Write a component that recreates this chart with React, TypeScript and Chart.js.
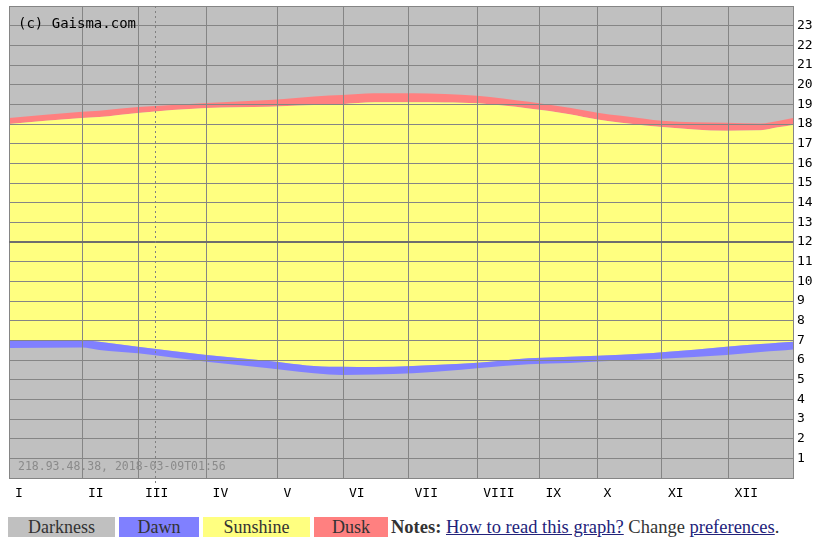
import React, { useEffect, useRef } from "react";
import { Chart, registerables } from "chart.js";

Chart.register(...registerables);

// Day of year for each sample
const DAYS = [0, 34, 42, 60, 92, 121, 149, 155, 170, 188, 203, 218, 242, 261, 274, 296, 304, 334, 350, 358, 365];
// Hours of day
const DAWN_START = [6.61, 6.64, 6.51, 6.34, 5.91, 5.58, 5.26, 5.24, 5.26, 5.32, 5.44, 5.58, 5.78, 5.85, 5.92, 6.02, 6.06, 6.25, 6.41, 6.47, 6.54];
const SUNRISE = [7.02, 7.02, 6.93, 6.68, 6.25, 5.95, 5.66, 5.66, 5.64, 5.69, 5.77, 5.86, 6.09, 6.17, 6.22, 6.33, 6.39, 6.68, 6.81, 6.88, 6.93];
const SUNSET = [18.0, 18.3, 18.35, 18.56, 18.81, 18.88, 18.99, 19.01, 19.1, 19.1, 19.09, 19.05, 18.79, 18.5, 18.23, 17.93, 17.85, 17.66, 17.68, 17.83, 17.95];
const DUSK_END = [18.3, 18.62, 18.68, 18.86, 19.07, 19.22, 19.45, 19.47, 19.56, 19.56, 19.53, 19.44, 19.13, 18.82, 18.57, 18.27, 18.16, 18.06, 18.03, 18.15, 18.3];

const MONTH_LABELS = ["I", "II", "III", "IV", "V", "VI", "VII", "VIII", "IX", "X", "XI", "XII"];
const MONTH_TICKS = [0, 34, 60.5, 92, 125, 155.5, 186, 218, 247, 274, 304, 335, 365];
const HOUR_MIN = 0;
const HOUR_MAX = 24;
const TODAY_DAY = 68;
const COPYRIGHT = "(c) Gaisma.com";
const STAMP = "218.93.48.38, 2018-03-09T01:56";

const COLORS = {
  darkness: "#c0c0c0",
  dawn: "#8080ff",
  sunshine: "#ffff80",
  dusk: "#ff8080",
};

const LEGEND = [
  { label: "Darkness", color: COLORS.darkness, width: 107 },
  { label: "Dawn", color: COLORS.dawn, width: 80 },
  { label: "Sunshine", color: COLORS.sunshine, width: 107 },
  { label: "Dusk", color: COLORS.dusk, width: 74 },
];

const MONO = "'DejaVu Sans Mono', 'Liberation Mono', monospace";

const bgPlugin = {
  id: "plotBg",
  beforeDraw(chart: any) {
    const { ctx, chartArea: a } = chart;
    ctx.save();
    ctx.fillStyle = COLORS.darkness;
    ctx.fillRect(a.left, a.top, a.right - a.left, a.bottom - a.top);
    ctx.restore();
  },
};

const overlayPlugin = {
  id: "overlay",
  afterDraw(chart: any) {
    const { ctx, chartArea: a } = chart;
    const x = Math.round(chart.scales.x.getPixelForValue(TODAY_DAY)) + 0.5;
    ctx.save();
    ctx.strokeStyle = "#808080";
    ctx.lineWidth = 1;
    ctx.setLineDash([2, 3]);
    ctx.beginPath();
    ctx.moveTo(x, a.top);
    ctx.lineTo(x, a.bottom + 8);
    ctx.stroke();
    ctx.setLineDash([]);
    ctx.fillStyle = "#000";
    ctx.font = `14px ${MONO}`;
    ctx.textBaseline = "middle";
    ctx.textAlign = "left";
    ctx.fillText(COPYRIGHT, a.left + 9, a.top + 18);
    ctx.fillStyle = "#8a8a8a";
    ctx.font = `11.5px ${MONO}`;
    ctx.fillText(STAMP, a.left + 9, a.bottom - 11);
    ctx.restore();
  },
};

function SunChart() {
  const ref = useRef<HTMLCanvasElement>(null);
  useEffect(() => {
    if (!ref.current) return;
    const mk = (arr: number[]) => DAYS.map((d, i) => ({ x: d, y: arr[i] }));
    const common = { borderWidth: 0, pointRadius: 0, cubicInterpolationMode: "monotone" as const };
    const chart = new Chart(ref.current, {
      type: "line",
      data: {
        datasets: [
          { label: "Dawn start", data: mk(DAWN_START), fill: false, ...common },
          { label: "Sunrise", data: mk(SUNRISE), fill: "-1", backgroundColor: COLORS.dawn, ...common },
          { label: "Sunset", data: mk(SUNSET), fill: "-1", backgroundColor: COLORS.sunshine, ...common },
          { label: "Dusk end", data: mk(DUSK_END), fill: "-1", backgroundColor: COLORS.dusk, ...common },
        ],
      },
      options: {
        animation: false,
        responsive: true,
        maintainAspectRatio: false,
        layout: { padding: { left: 9, top: 6, right: 0, bottom: 0 } },
        plugins: { legend: { display: false }, tooltip: { enabled: false } },
        events: [],
        scales: {
          x: {
            type: "linear",
            min: 0,
            max: 365,
            afterBuildTicks: (scale: any) => {
              scale.ticks = MONTH_TICKS.map((v) => ({ value: v }));
            },
            afterFit: (scale: any) => {
              scale.height = 27;
            },
            grid: { color: "#858585", lineWidth: 1, drawTicks: false, z: 1 },
            border: { display: true, color: "#858585", z: 1 },
            ticks: {
              autoSkip: false,
              maxRotation: 0,
              align: "start",
              labelOffset: 6,
              padding: 8,
              color: "#000",
              font: { family: MONO, size: 13 },
              callback: (_v: any, i: number) => MONTH_LABELS[i] ?? "",
            },
          },
          y: {
            position: "right",
            min: HOUR_MIN,
            max: HOUR_MAX,
            afterFit: (scale: any) => {
              scale.width = 26;
              scale.paddingTop = 0;
              scale.paddingBottom = 0;
            },
            grid: {
              color: (c: any) => (c.tick && c.tick.value === 12 ? "#6e6e6e" : "#858585"),
              lineWidth: (c: any) => (c.tick && c.tick.value === 12 ? 2 : 1),
              drawTicks: false,
              z: 1,
            },
            border: { display: true, color: "#858585", z: 1 },
            ticks: {
              stepSize: 1,
              autoSkip: false,
              padding: 4,
              color: "#000",
              font: { family: MONO, size: 13, lineHeight: 0.8 },
              callback: (v: any) => (v >= 1 && v <= 23 ? String(v) : ""),
            },
          },
        },
      },
      plugins: [bgPlugin, overlayPlugin],
    } as any);
    return () => chart.destroy();
  }, []);
  return (
    <div style={{ position: "absolute", left: 0, top: 0, width: 819, height: 505 }}>
      <canvas ref={ref} />
    </div>
  );
}

export default function App() {
  const serif = "'Liberation Serif', 'Times New Roman', serif";
  const link = { color: "#22227a", textDecoration: "underline" };
  return (
    <div style={{ position: "absolute", left: 0, top: 0, width: 819, height: 543, background: "#fff" }}>
      <SunChart />
      <div
        style={{
          position: "absolute",
          left: 8,
          top: 517,
          display: "flex",
          alignItems: "center",
          gap: 4,
          fontFamily: serif,
          fontSize: 18,
          color: "#333",
          whiteSpace: "nowrap",
        }}
      >
        {LEGEND.map((l) => (
          <div
            key={l.label}
            style={{ width: l.width, height: 20, lineHeight: "20px", background: l.color, textAlign: "center" }}
          >
            {l.label}
          </div>
        ))}
        <div style={{ marginLeft: -1, lineHeight: "20px", fontSize: 18.5 }}>
          <b>Notes:</b> <span style={link}>How to read this graph?</span> Change{" "}
          <span style={link}>preferences</span>.
        </div>
      </div>
    </div>
  );
}
